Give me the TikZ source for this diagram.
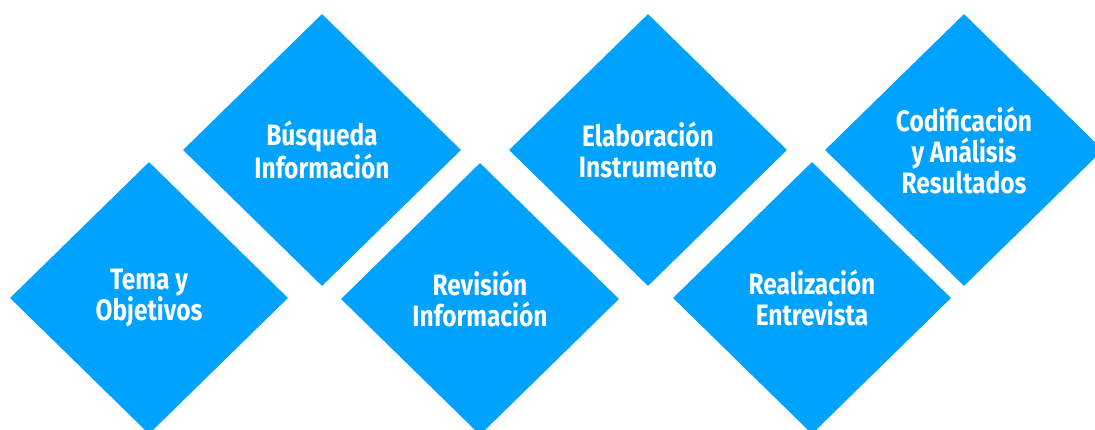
\documentclass[tikz,border=0pt]{standalone}
\usepackage{fontspec}
\newfontfamily\stepfont[FakeStretch=0.83]{Fira Sans}
\usetikzlibrary{shapes.geometric}
\definecolor{stepblue}{RGB}{0,162,255}

\begin{document}
\begin{tikzpicture}[x=1pt,y=1pt,
  every node/.style = {diamond, fill=stepblue, text=white,
    inner sep=0pt, minimum width=278pt, minimum height=272pt,
    align=center, font=\stepfont\bfseries\fontsize{29.5}{31}\selectfont}]
  \useasboundingbox (0,0) rectangle (1095,430);
  \clip (0,0) rectangle (1095,430);
  % lower row
  \node (tema)       at (149,132) {Tema y\\Objetivos};
  \node (revision)   at (480,131) {Revisión\\Información};
  \node (entrevista) at (812,132) {Realización\\Entrevista};
  % upper row
  \node (busqueda)   at (322,280) {Búsqueda\\Información};
  \node (instrumento) at (648,280) {Elaboración\\Instrumento};
  \node (resultados) at (964,280) {Codificación\\y Análisis\\Resultados};
\end{tikzpicture}
\end{document}
